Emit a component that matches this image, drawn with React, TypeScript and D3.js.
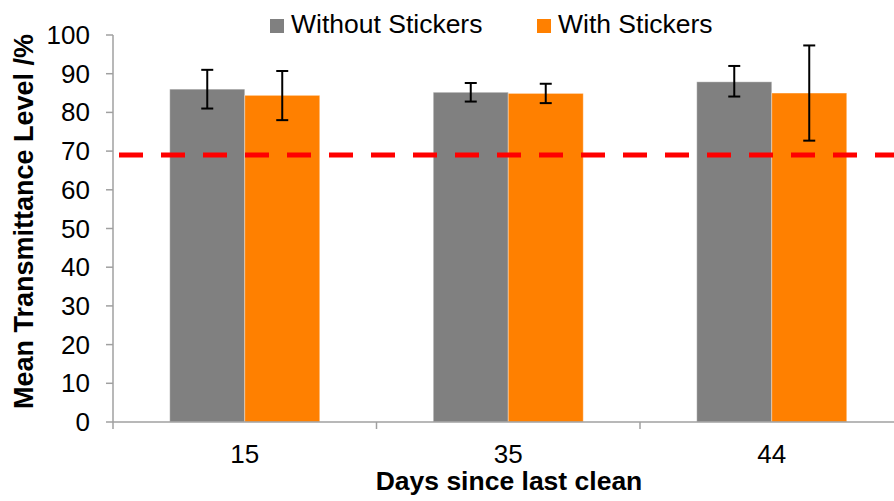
import React from "react";
import * as d3 from "d3";

const categories = ["15", "35", "44"];
const seriesNames = ["Without Stickers", "With Stickers"];
const withoutValues = [86.0, 85.2, 87.9];
const withoutErrLow = [81.0, 82.8, 84.1];
const withoutErrHigh = [91.0, 87.6, 92.0];
const withValues = [84.4, 84.9, 85.0];
const withErrLow = [78.0, 82.4, 72.7];
const withErrHigh = [90.7, 87.4, 97.3];
const yTicks = [0, 10, 20, 30, 40, 50, 60, 70, 80, 90, 100];
const threshold = 69;
const colors = ["#808080", "#FF8000"];

const W = 894;
const H = 501;
const left = 113;
const right = 903.5;
const top = 35;
const bottom = 422;

export default function App() {
  const x0 = d3.scaleBand<string>().domain(categories).range([left, right]).paddingInner(0).paddingOuter(0);
  const x1 = d3
    .scaleBand<string>()
    .domain(seriesNames)
    .range([0, x0.bandwidth()])
    .paddingInner(0)
    .paddingOuter(0.757);
  const y = d3.scaleLinear().domain([0, 100]).range([bottom, top]);

  const data = seriesNames.map((s, si) => ({
    name: s,
    color: colors[si],
    values: si === 0 ? withoutValues : withValues,
    lo: si === 0 ? withoutErrLow : withErrLow,
    hi: si === 0 ? withoutErrHigh : withErrHigh,
  }));

  const axisColor = "#a0a0a0";
  const font = "Liberation Sans, Arial, sans-serif";
  const boundaries = [...categories.map((c) => x0(c) as number), right];

  return (
    <svg width={W} height={H} style={{ position: "absolute", left: 0, top: 0 }} fontFamily={font}>
      <rect x={0} y={0} width={W} height={H} fill="#fff" />
      {/* bars */}
      {data.map((s) =>
        categories.map((c, i) => {
          const bx = (x0(c) as number) + (x1(s.name) as number);
          return (
            <rect
              key={s.name + c}
              x={bx}
              y={y(s.values[i])}
              width={x1.bandwidth()}
              height={y(0) - y(s.values[i])}
              fill={s.color}
              stroke="rgba(255,255,255,0.35)"
              strokeWidth={1}
            />
          );
        })
      )}
      {/* threshold line */}
      <line
        x1={119}
        x2={W}
        y1={y(threshold)}
        y2={y(threshold)}
        stroke="#FF0000"
        strokeWidth={5}
        strokeDasharray="24 18"
      />
      {/* error bars */}
      {data.map((s) =>
        categories.map((c, i) => {
          const cx = (x0(c) as number) + (x1(s.name) as number) + x1.bandwidth() / 2;
          return (
            <g key={"e" + s.name + c} stroke="#000" strokeWidth={2}>
              <line x1={cx} x2={cx} y1={y(s.hi[i])} y2={y(s.lo[i])} />
              <line x1={cx - 6} x2={cx + 6} y1={y(s.hi[i])} y2={y(s.hi[i])} />
              <line x1={cx - 6} x2={cx + 6} y1={y(s.lo[i])} y2={y(s.lo[i])} />
            </g>
          );
        })
      )}
      {/* y axis */}
      <line x1={left} x2={left} y1={top} y2={bottom} stroke={axisColor} strokeWidth={1.5} />
      {yTicks.map((t) => (
        <g key={"yt" + t}>
          <line x1={left - 7} x2={left} y1={y(t)} y2={y(t)} stroke={axisColor} strokeWidth={1.5} />
          <text x={90} y={y(t) + 9} textAnchor="end" fontSize={26} fill="#000">
            {t}
          </text>
        </g>
      ))}
      {/* x axis */}
      <line x1={left} x2={W} y1={bottom} y2={bottom} stroke={axisColor} strokeWidth={1.5} />
      {boundaries.map((b, i) => (
        <line key={"xt" + i} x1={b} x2={b} y1={bottom} y2={bottom + 7} stroke={axisColor} strokeWidth={1.5} />
      ))}
      {categories.map((c) => (
        <text
          key={"xl" + c}
          x={(x0(c) as number) + x0.bandwidth() / 2}
          y={462.5}
          textAnchor="middle"
          fontSize={26}
          fill="#000"
        >
          {c}
        </text>
      ))}
      {/* axis titles */}
      <text x={509} y={490} textAnchor="middle" fontSize={26.5} fontWeight="bold" fill="#000">
        Days since last clean
      </text>
      <text
        transform={`translate(33,${221.5}) rotate(-90)`}
        textAnchor="middle"
        fontSize={27}
        fontWeight="bold"
        fill="#000"
      >
        Mean Transmittance Level /%
      </text>
      {/* legend */}
      {data.map((s, i) => {
        const lx = i === 0 ? 270 : 537;
        return (
          <g key={"lg" + s.name}>
            <rect x={lx} y={19} width={14} height={14} fill={s.color} />
            <text x={lx + 21} y={33} fontSize={26.5} fill="#000">
              {s.name}
            </text>
          </g>
        );
      })}
    </svg>
  );
}
